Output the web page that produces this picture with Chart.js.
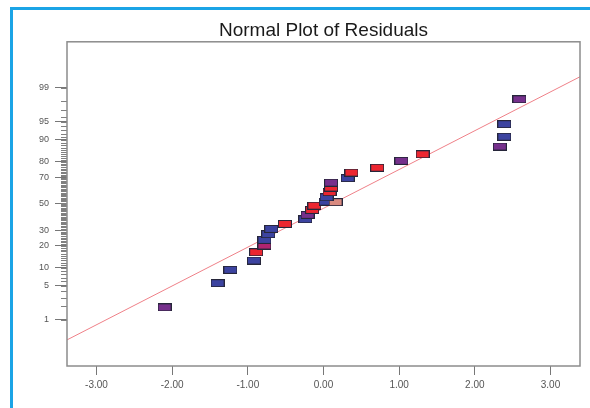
<!DOCTYPE html>
<html>
<head>
<meta charset="utf-8">
<title>Normal Plot of Residuals</title>
<script src="https://cdn.jsdelivr.net/npm/chart.js"></script>
<style>
  body { margin: 0; background: #fff; }
  #wrap { position: relative; width: 590px; height: 408px; overflow: hidden; background: #fff; }
  #frame { position: absolute; left: 10px; top: 7px; width: 700px; height: 500px;
    border-top: 3px solid #1ba4e6; border-left: 3px solid #1ba4e6; }
  canvas { position: absolute; left: 0; top: 0; }
</style>
</head>
<body>
<div id="wrap">
  <div id="frame"></div>
  <canvas id="chart" width="590" height="408"></canvas>
</div>
<script>
// residuals (x) and their normal % probability (y)
const residuals = [
  -2.10, -1.40, -1.23, -0.92, -0.89, -0.78, -0.78, -0.73, -0.69, -0.51,
  -0.24, -0.21, -0.15, -0.12, 0.03, 0.16, 0.04, 0.08, 0.10, 0.10,
  0.32, 0.37, 0.71, 1.03, 1.31, 2.33, 2.39, 2.39, 2.59
];
const probabilities = [
  1.9, 5.6, 9.3, 12.8, 16.6, 20.2, 23.5, 27.2, 30.8, 34.4,
  37.9, 41.3, 45.2, 48.6, 51.8, 51.4, 55.3, 59.3, 62.8, 66.5,
  69.7, 73.5, 76.6, 80.6, 84.0, 87.5, 91.1, 94.5, 98.2
];
const pointGroups = [
  'purple', 'blue', 'blue', 'blue', 'red', 'magenta', 'blue', 'blue', 'blue', 'red',
  'blue', 'purple', 'red', 'red', 'blue', 'salmon', 'blue', 'red', 'red', 'purple',
  'blue', 'red', 'red', 'purple', 'red', 'purple', 'blue', 'blue', 'purple'
];
const fitResiduals = [-3.39, 3.39];
const fitProbabilities = [0.32, 99.46];
const xTicks = [-3, -2, -1, 0, 1, 2, 3];
const yTicks = [1, 5, 10, 20, 30, 50, 70, 80, 90, 95, 99];

const groupColors = {
  blue: '#3c43a0', red: '#ec2630', purple: '#76308c', magenta: '#b02470', salmon: '#d98a80'
};

function normInv(p) {
  const a = [-3.969683028665376e+01, 2.209460984245205e+02, -2.759285104469687e+02, 1.383577518672690e+02, -3.066479806614716e+01, 2.506628277459239e+00];
  const b = [-5.447609879822406e+01, 1.615858368580409e+02, -1.556989798598866e+02, 6.680131188771972e+01, -1.328068155288572e+01];
  const c = [-7.784894002430293e-03, -3.223964580411365e-01, -2.400758277161838e+00, -2.549732539343734e+00, 4.374664141464968e+00, 2.938163982698783e+00];
  const d = [7.784695709041462e-03, 3.224671290700398e-01, 2.445134137142996e+00, 3.754408661907416e+00];
  const lo = 0.02425;
  if (p < lo) {
    const q = Math.sqrt(-2 * Math.log(p));
    return (((((c[0]*q+c[1])*q+c[2])*q+c[3])*q+c[4])*q+c[5]) / ((((d[0]*q+d[1])*q+d[2])*q+d[3])*q+1);
  }
  if (p > 1 - lo) {
    const q = Math.sqrt(-2 * Math.log(1 - p));
    return -(((((c[0]*q+c[1])*q+c[2])*q+c[3])*q+c[4])*q+c[5]) / ((((d[0]*q+d[1])*q+d[2])*q+d[3])*q+1);
  }
  const q = p - 0.5, r = q * q;
  return (((((a[0]*r+a[1])*r+a[2])*r+a[3])*r+a[4])*r+a[5])*q / (((((b[0]*r+b[1])*r+b[2])*r+b[3])*r+b[4])*r+1);
}

function marker(color) {
  const cv = document.createElement('canvas');
  cv.width = 14; cv.height = 8;
  const g = cv.getContext('2d');
  g.fillStyle = color;
  g.fillRect(0, 0, 14, 8);
  g.strokeStyle = '#26263a';
  g.lineWidth = 1;
  g.strokeRect(0.5, 0.5, 13, 7);
  return cv;
}
const markers = {};
Object.keys(groupColors).forEach(k => markers[k] = marker(groupColors[k]));

const probFrame = {
  id: 'probFrame',
  afterDraw(chart) {
    const { ctx, chartArea: a, scales } = chart;
    ctx.save();
    ctx.strokeStyle = '#808080';
    ctx.lineWidth = 1;
    for (let p = 1; p <= 99; p++) {
      const y = Math.round(scales.y.getPixelForValue(normInv(p / 100))) + 0.5;
      ctx.beginPath();
      ctx.moveTo(a.left - 6, y);
      ctx.lineTo(a.left, y);
      ctx.stroke();
    }
    ctx.strokeStyle = '#8c8c8c';
    ctx.lineWidth = 1.5;
    ctx.strokeRect(a.left, a.top, a.right - a.left, a.bottom - a.top);
    ctx.restore();
  }
};

Chart.defaults.font.family = "'Liberation Sans', Arial, sans-serif";

new Chart(document.getElementById('chart'), {
  type: 'scatter',
  data: {
    datasets: [
      {
        data: residuals.map((x, i) => ({ x, y: normInv(probabilities[i] / 100) })),
        pointStyle: pointGroups.map(g => markers[g]),
        pointRadius: 5,
        order: 1
      },
      {
        data: fitResiduals.map((x, i) => ({ x, y: normInv(fitProbabilities[i] / 100) })),
        showLine: true,
        borderColor: '#ef8088',
        borderWidth: 1,
        pointRadius: 0,
        order: 2
      }
    ]
  },
  options: {
    responsive: false,
    animation: false,
    layout: { padding: { left: 0, right: 10, top: 0, bottom: 12 } },
    plugins: {
      legend: { display: false },
      tooltip: { enabled: false },
      title: {
        display: true,
        text: 'Normal Plot of Residuals',
        fullSize: false,
        color: '#1a1a1a',
        font: { size: 19, weight: 'normal' },
        padding: { top: 19, bottom: 0 }
      }
    },
    scales: {
      x: {
        type: 'linear',
        min: -3.39,
        max: 3.39,
        afterBuildTicks: s => { s.ticks = xTicks.map(v => ({ value: v })); },
        afterFit: s => { s.height = 30; },
        border: { display: false },
        grid: { drawOnChartArea: false, tickLength: 9, tickColor: '#777' },
        ticks: {
          color: '#555', font: { size: 10 }, padding: 4, maxRotation: 0, autoSkip: false,
          callback: v => v.toFixed(2)
        }
      },
      y: {
        type: 'linear',
        min: -3.25,
        max: 3.25,
        afterBuildTicks: s => { s.ticks = yTicks.map(p => ({ value: normInv(p / 100) })); },
        afterFit: s => { s.width = 67; },
        border: { display: false },
        grid: { drawOnChartArea: false, tickLength: 12, tickColor: '#777' },
        ticks: {
          color: '#555', font: { size: 9 }, padding: 6, autoSkip: false,
          callback: (v, i) => String(yTicks[i])
        }
      }
    }
  },
  plugins: [probFrame]
});
</script>
</body>
</html>
